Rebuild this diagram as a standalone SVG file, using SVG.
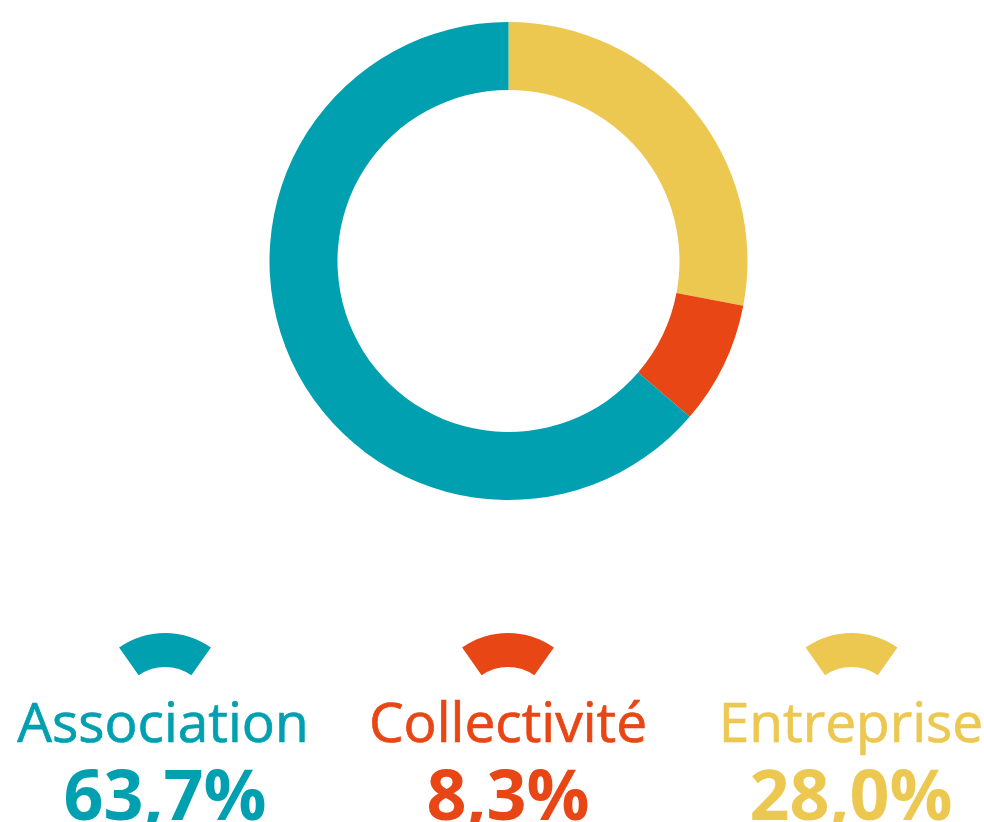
<svg xmlns="http://www.w3.org/2000/svg" xmlns:xlink="http://www.w3.org/1999/xlink" width="984" height="822" viewBox="0 0 984 822">
<style>
.t{font-family:"Open Sans","Liberation Sans",sans-serif;text-anchor:middle}
.lbl{font-size:55px;font-weight:400;stroke-width:0.7px}
.pct{font-size:70px;font-weight:700}
.teal{fill:#00A0B0}
.red{fill:#E84614}
.yel{fill:#ECC851}
.lbl.teal{stroke:#00A0B0}
.lbl.red{stroke:#E84614}
.lbl.yel{stroke:#ECC851}
</style>
<defs>
<path id="icon" d="M-45.89,647.47 A80,80 0 0 1 45.89,647.47 L26.38,675.32 A46,46 0 0 0 -26.38,675.32 Z"/>
</defs>
<rect width="984" height="822" fill="#fff"/>
<g id="donut">
<path id="seg-entreprise" class="yel" d="M508.5,22 A239,239 0 0 1 743.27,305.78 L676.47,293.04 A171,171 0 0 0 508.5,90 Z"/>
<path id="seg-collectivite" class="red" d="M743.27,305.78 A239,239 0 0 1 689.69,416.85 L638.14,372.51 A171,171 0 0 0 676.47,293.04 Z"/>
<path id="seg-association" class="teal" d="M689.69,416.85 A239,239 0 1 1 508.5,22 L508.5,90 A171,171 0 1 0 638.14,372.51 Z"/>
</g>
<g id="legend-association">
<use xlink:href="#icon" href="#icon" class="teal" transform="translate(165,0)"/>
<text class="t lbl teal" x="163" y="741.7">Association</text>
<text class="t pct teal" x="165" y="820">63,7%</text>
</g>
<g id="legend-collectivite">
<use xlink:href="#icon" href="#icon" class="red" transform="translate(508,0)"/>
<text class="t lbl red" x="508" y="741.7">Collectivité</text>
<text class="t pct red" x="508" y="820">8,3%</text>
</g>
<g id="legend-entreprise">
<use xlink:href="#icon" href="#icon" class="yel" transform="translate(851.5,0)"/>
<text class="t lbl yel" x="851" y="741.7">Entreprise</text>
<text class="t pct yel" x="851" y="820">28,0%</text>
</g>
</svg>
